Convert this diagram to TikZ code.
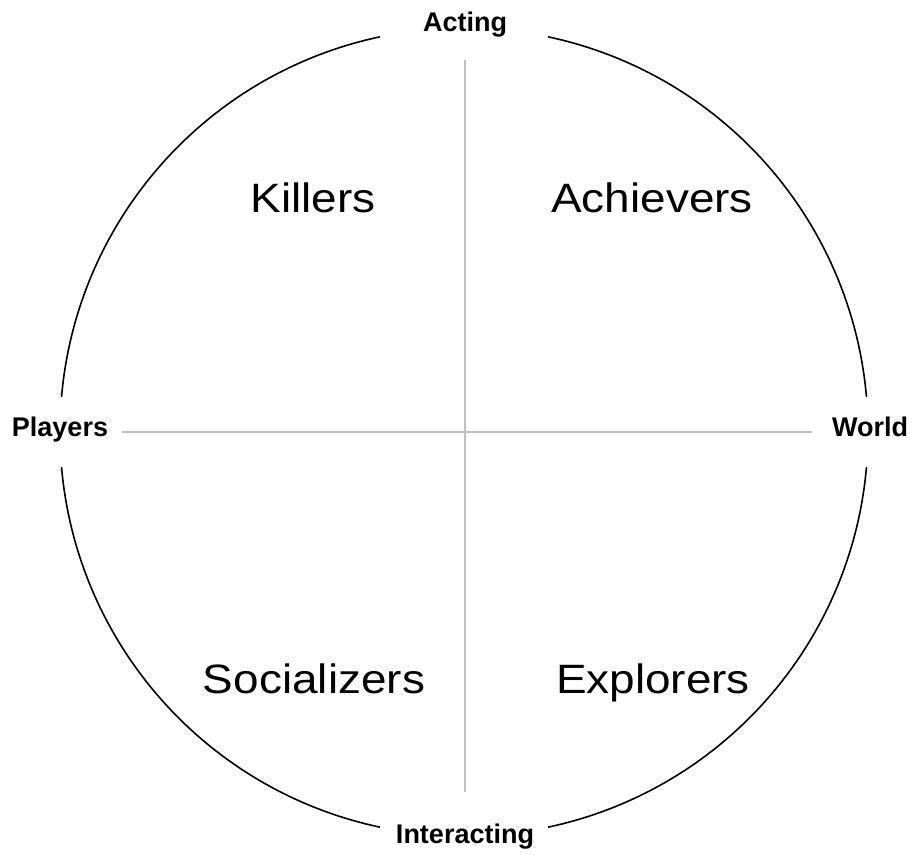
\documentclass[tikz,border=0pt]{standalone}
\usepackage{fontspec}
\setmainfont{Liberation Sans}
\newfontfamily\bigfont[FakeStretch=1.12]{Liberation Sans}
\definecolor{axisgray}{RGB}{191,191,191}
\tikzset{
  axislabel/.style={anchor=base, inner sep=0pt, font=\fontsize{27}{30}\selectfont\bfseries},
  typelabel/.style={anchor=base, inner sep=0pt, font=\bigfont\fontsize{41}{46}\selectfont},
  axisline/.style={draw=axisgray, line width=2pt},
  ring/.style={draw=black, line width=1.6pt}
}
\begin{document}
\begin{tikzpicture}[x=1pt,y=1pt]
\useasboundingbox (0,0) rectangle (915,854);
\coordinate (c) at (464,422);
% circle arcs with gaps at the labels
\draw[ring] ([shift={(102:404)}]c) arc[start angle=102, end angle=175, radius=404];
\draw[ring] ([shift={(185:404)}]c) arc[start angle=185, end angle=258, radius=404];
\draw[ring] ([shift={(282:404)}]c) arc[start angle=282, end angle=355, radius=404];
\draw[ring] ([shift={(5:404)}]c) arc[start angle=5, end angle=78, radius=404];
% axes
\coordinate (top) at (465,794);
\coordinate (bot) at (465,62);
\coordinate (lft) at (122,422);
\coordinate (rgt) at (812,422);
\draw[axisline] (top) -- (bot);
\draw[axisline] (lft) -- (rgt);
% axis labels
\node[axislabel] (acting) at (465,822) {Acting};
\node[axislabel] (interacting) at (465,11) {Interacting};
\node[axislabel] (players) at (60,417) {Players};
\node[axislabel] (world) at (870,417) {World};
% quadrant labels
\node[typelabel] (killers) at (313,641) {Killers};
\node[typelabel] (achievers) at (652,641) {Achievers};
\node[typelabel] (socializers) at (314,160) {Socializers};
\node[typelabel] (explorers) at (653,160) {Explorers};
\end{tikzpicture}
\end{document}
